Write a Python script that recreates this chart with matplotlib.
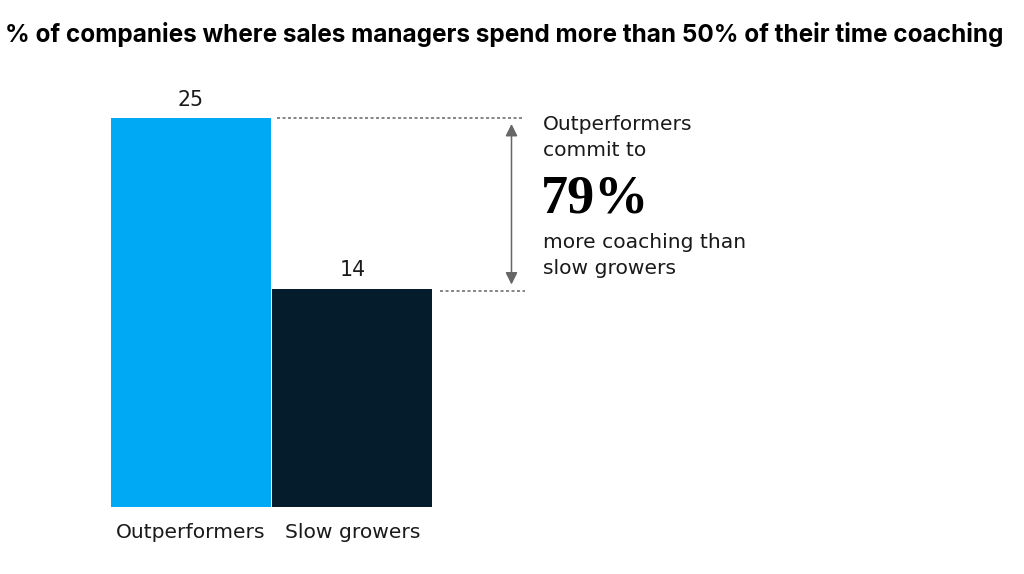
import matplotlib
matplotlib.use("Agg")
import matplotlib.pyplot as plt

categories = ["Outperformers", "Slow growers"]
values = [25, 14]
colors = ["#00A9F4", "#051C2C"]
title = "% of companies where sales managers spend more than 50% of their time coaching"
big_value = "79%"
note_top = ["Outperformers", "commit to"]
note_bottom = ["more coaching than", "slow growers"]

W, H = 1024, 574
fig = plt.figure(figsize=(W / 100, H / 100), dpi=100)
fig.patch.set_facecolor("white")

# axes: x from 110px to 433px, y baseline at 506px, 25 at 118px
left, right, base, top = 110, 433, 506.5, 118
ax = fig.add_axes([left / W, (H - base) / H, (right - left) / W, (base - top) / H])
ax.set_xlim(-0.5, 1.5)
ax.set_ylim(0, 25)
ax.axis("off")

bars = ax.bar(range(len(values)), values, width=0.99, color=colors)

body = "DejaVu Sans"
txtcol = "#1a1a1a"
for i, v in enumerate(values):
    ax.annotate(str(v), xy=(i, v), xytext=(0, 9), textcoords="offset points",
                ha="center", va="baseline", fontsize=14.8, family=body, color=txtcol)
    ax.annotate(categories[i], xy=(i, 0), xytext=(0, -23), textcoords="offset points",
                ha="center", va="baseline", fontsize=14.6, family=body, color=txtcol)

px_per_unit = (right - left) / 2.0
def px2x(px):
    return -0.5 + (px - left) / px_per_unit

unit_px = (base - top) / values[0]
def py2y(py):
    return (base - py) / unit_px

# dotted guide lines
ax.plot([px2x(277), px2x(522)], [py2y(118.5)] * 2, ls=(0, (2, 1.6)), lw=1.1,
        color="#666666", clip_on=False)
ax.plot([px2x(440), px2x(525)], [py2y(290.7)] * 2, ls=(0, (2, 1.6)),
        lw=1.1, color="#666666", clip_on=False)

# double arrow
ax.annotate("", xy=(px2x(511.5), py2y(124)), xytext=(px2x(511.5), py2y(284.5)),
            arrowprops=dict(arrowstyle="<|-|>,head_length=0.4,head_width=0.2",
                            color="#666666", lw=1.1, mutation_scale=18,
                            shrinkA=0, shrinkB=0),
            annotation_clip=False)

# annotation text (figure pixel coords)
def fy(py):
    return 1 - py / H

for line, py in zip(note_top, [130, 156]):
    fig.text(543 / W, fy(py), line, ha="left", va="baseline", fontsize=14.6,
             family=body, color=txtcol)
fig.text(541 / W, fy(212), big_value, ha="left", va="baseline", fontsize=39,
         family="Liberation Serif", weight="bold", color="#000000")
for line, py in zip(note_bottom, [248, 274]):
    fig.text(543 / W, fy(py), line, ha="left", va="baseline", fontsize=14.6,
             family=body, color=txtcol)

fig.text(5 / W, fy(42), title, ha="left", va="baseline", fontsize=17.5,
         family="Inter", weight="bold", color="#000000")

fig.savefig("out.png", dpi=100, facecolor="white")
